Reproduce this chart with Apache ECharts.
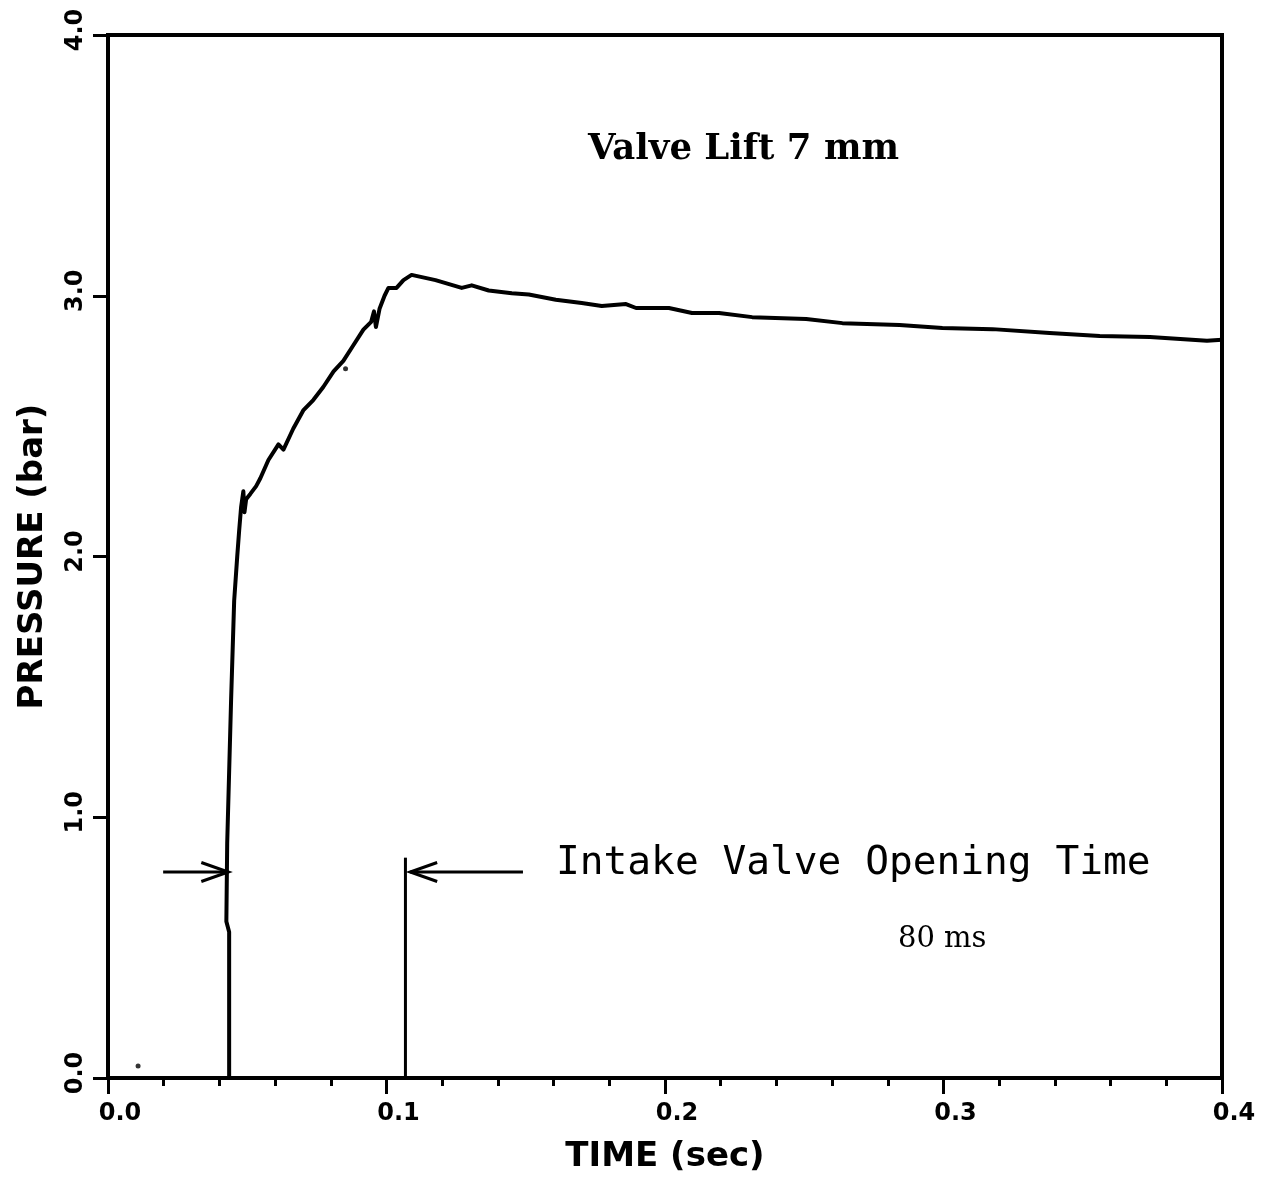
<!DOCTYPE html>
<html>
<head>
<meta charset="utf-8">
<script src="https://cdn.jsdelivr.net/npm/echarts@6/dist/echarts.min.js"></script>
<style>
html,body{margin:0;padding:0;background:#fff;}
#chart{width:1265px;height:1180px;}
</style>
</head>
<body>
<div id="chart"></div>
<script>
// ---- data ----
const xTicks = [0.0, 0.1, 0.2, 0.3, 0.4];
const yTicks = [0.0, 1.0, 2.0, 3.0, 4.0];
const timeSec = [0, 0.0435, 0.0435, 0.0425, 0.0428, 0.0442, 0.0453, 0.0464, 0.0471, 0.0478, 0.0486, 0.0490, 0.0496, 0.0511, 0.0532, 0.0547, 0.0576, 0.0612, 0.0630, 0.0665, 0.0701, 0.0737, 0.0773, 0.0810, 0.0845, 0.0881, 0.0917, 0.0945, 0.0955, 0.0962, 0.0975, 0.0993, 0.1007, 0.1036, 0.1061, 0.1090, 0.1176, 0.1270, 0.1306, 0.1367, 0.1450, 0.1511, 0.1608, 0.1701, 0.1773, 0.1860, 0.1896, 0.2014, 0.2097, 0.2194, 0.2313, 0.2507, 0.2637, 0.2842, 0.2996, 0.3176, 0.3381, 0.3561, 0.3741, 0.3946, 0.4000];
const pressureBar = [0, 0, 0.56, 0.60, 0.90, 1.45, 1.83, 2.00, 2.10, 2.19, 2.25, 2.17, 2.22, 2.24, 2.27, 2.30, 2.37, 2.43, 2.41, 2.49, 2.56, 2.60, 2.65, 2.71, 2.75, 2.81, 2.87, 2.90, 2.94, 2.88, 2.95, 3.00, 3.03, 3.03, 3.06, 3.08, 3.06, 3.03, 3.04, 3.02, 3.01, 3.005, 2.985, 2.972, 2.961, 2.968, 2.953, 2.953, 2.934, 2.934, 2.918, 2.911, 2.895, 2.888, 2.876, 2.872, 2.857, 2.846, 2.842, 2.827, 2.831];
const strayDots = [[0.0108, 0.046], [0.0853, 2.72]];
// annotation arrows: [xStart, y, xEnd(head), y]
const arrows = [[0.0198, 0.79, 0.0432, 0.79], [0.149, 0.79, 0.1085, 0.79]];
// marker line for valve closing: [x, yFrom, x, yTo]
const markerLines = [[0.1068, 0, 0.1068, 0.845]];
const titleText = 'Valve Lift 7 mm';
const noteText = 'Intake Valve Opening Time';
const durationText = '80 ms';

const curve = timeSec.map((t, i) => [t, pressureBar[i]]);

const chart = echarts.init(document.getElementById('chart'), null, {renderer: 'canvas'});
const tickFont = {fontFamily: 'DejaVu Sans', fontWeight: 'bold', fontSize: 24, color: '#000'};
const option = {
  backgroundColor: '#fff',
  animation: false,
  grid: {left: 108, right: 43, top: 35, bottom: 102, show: true, borderColor: '#000', borderWidth: 4, backgroundColor: 'transparent'},
  xAxis: {
    type: 'value', min: 0, max: 0.4, interval: 0.1,
    name: 'TIME (sec)', nameLocation: 'middle', nameGap: 62,
    nameTextStyle: {fontFamily: 'DejaVu Sans', fontWeight: 'bold', fontSize: 34, color: '#000'},
    axisLine: {show: true, lineStyle: {color: '#000', width: 4}},
    axisTick: {show: true, length: 16, lineStyle: {color: '#000', width: 3}},
    minorTick: {show: true, splitNumber: 5, length: 8, lineStyle: {color: '#000', width: 3}},
    splitLine: {show: false},
    axisLabel: Object.assign({margin: 24, padding: [0, 0, 0, 24], formatter: v => xTicks.includes(+v.toFixed(1)) ? v.toFixed(1) : ''}, tickFont)
  },
  yAxis: {
    type: 'value', min: 0, max: 4, interval: 1,
    name: 'PRESSURE (bar)', nameLocation: 'middle', nameGap: 58, nameRotate: 90,
    nameTextStyle: {fontFamily: 'DejaVu Sans', fontWeight: 'bold', fontSize: 34, color: '#000'},
    axisLine: {show: true, lineStyle: {color: '#000', width: 4}},
    axisTick: {show: true, length: 15, lineStyle: {color: '#000', width: 3}},
    splitLine: {show: false},
    axisLabel: Object.assign({rotate: 90, margin: 20, padding: [0, 0, 0, 10], formatter: v => yTicks.includes(+v.toFixed(1)) ? v.toFixed(1) : ''}, tickFont)
  },
  series: [
    {
      type: 'line', data: curve, showSymbol: false, symbol: 'none',
      lineStyle: {color: '#000', width: 4, join: 'round'}, z: 3
    },
    {
      type: 'scatter', data: strayDots, symbolSize: 5, itemStyle: {color: '#000'}
    },
    {
      type: 'custom', data: arrows,
      renderItem: function (params, api) {
        const a = api.coord([api.value(0), api.value(1)]);
        const b = api.coord([api.value(2), api.value(3)]);
        const dir = Math.sign(b[0] - a[0]);
        const hl = 27, hw = 9.5;
        return {
          type: 'group',
          children: [
            {type: 'line', shape: {x1: a[0], y1: a[1], x2: b[0], y2: b[1]}, style: {stroke: '#000', lineWidth: 3}},
            {type: 'polyline', shape: {points: [[b[0] - dir * hl, b[1] - hw], [b[0], b[1]], [b[0] - dir * hl, b[1] + hw]]}, style: {stroke: '#000', lineWidth: 3, fill: null}}
          ]
        };
      }
    },
    {
      type: 'custom', data: markerLines,
      renderItem: function (params, api) {
        const a = api.coord([api.value(0), api.value(1)]);
        const b = api.coord([api.value(2), api.value(3)]);
        return {type: 'line', shape: {x1: a[0], y1: a[1], x2: b[0], y2: b[1]}, style: {stroke: '#000', lineWidth: 3}};
      }
    }
  ],
  graphic: [
    {type: 'text', left: 588, top: 132, style: {text: titleText, fontFamily: 'DejaVu Serif', fontWeight: 'bold', fontSize: 35.5, fill: '#000'}},
    {type: 'text', left: 556, top: 844, style: {text: noteText, fontFamily: 'DejaVu Sans Mono', fontSize: 39.5, fill: '#000'}},
    {type: 'text', left: 898, top: 925, style: {text: durationText, fontFamily: 'DejaVu Serif', fontSize: 29, fill: '#000'}}
  ]
};
chart.setOption(option);
</script>
</body>
</html>
